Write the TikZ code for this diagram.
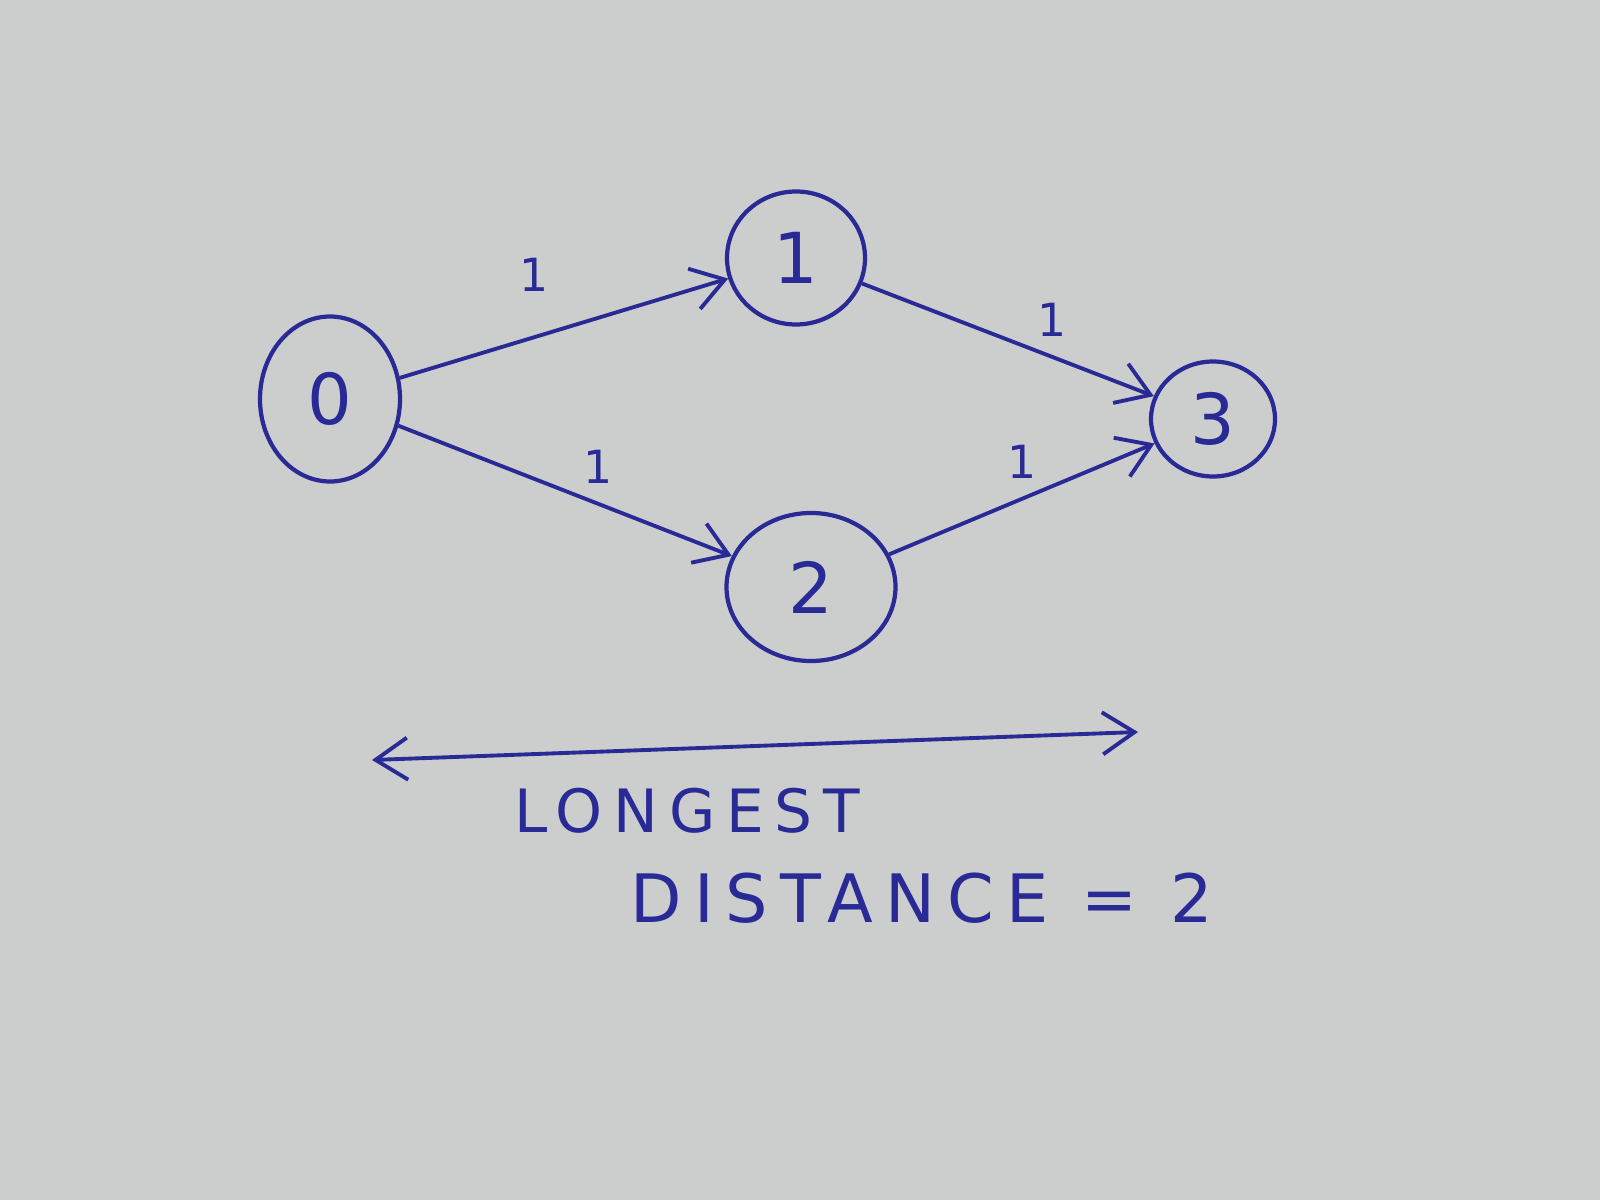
\documentclass[tikz,border=0pt]{standalone}
\usepackage{fontspec}
\usepackage{tikz}
\usetikzlibrary{shapes.geometric, arrows.meta, positioning}
\newfontfamily\handfont[LetterSpace=18]{DejaVu Sans}
\newfontfamily\digitfont{DejaVu Sans}
\definecolor{papel}{RGB}{204,206,205}
\definecolor{tinta}{RGB}{42,42,150}
\tikzset{
  vertice/.style={ellipse, draw=tinta, line width=1.2pt, inner sep=0pt,
    text=tinta, font=\digitfont\fontsize{20}{24}\selectfont},
  flecha/.style={-{Straight Barb[length=3.2mm, width=4.2mm]}, line width=1.1pt, color=tinta},
  peso/.style={font=\digitfont\fontsize{13}{15}\selectfont, text=tinta, inner sep=1pt},
  rotulo/.style={font=\handfont\fontsize{17}{20}\selectfont, text=tinta, inner sep=0pt}
}
\begin{document}
\begin{tikzpicture}
  \fill[papel] (0,0) rectangle (16,12);
  \useasboundingbox (0,0) rectangle (16,12);
  \node[vertice, minimum width=1.40cm, minimum height=1.65cm] (n0) at (3.30,8.01) {0};
  \node[vertice, minimum width=1.38cm, minimum height=1.33cm] (n1) at (7.96,9.42) {1};
  \node[vertice, minimum width=1.69cm, minimum height=1.48cm] (n2) at (8.11,6.13) {2};
  \node[vertice, minimum width=1.24cm, minimum height=1.15cm] (n3) at (12.13,7.81) {3};
  \draw[flecha] (n0) -- node[peso, pos=0.41, above=4mm] {1} (n1);
  \draw[flecha] (n1) -- node[peso, pos=0.65, above=1.5mm] {1} (n3);
  \draw[flecha] (n0) -- node[peso, pos=0.6, above=1.5mm] {1} (n2);
  \draw[flecha] (n2) -- node[peso, pos=0.5, above=1.5mm] {1} (n3);
  \coordinate (izq) at (3.72,4.40);
  \coordinate (der) at (11.38,4.68);
  \draw[flecha, {Straight Barb[length=3.2mm, width=4.2mm]}-{Straight Barb[length=3.2mm, width=4.2mm]}] (izq) -- (der);
  \node[rotulo] (largo) at (6.87,3.89) {LONGEST};
  \node[rotulo, font=\handfont\fontsize{19}{22}\selectfont] (dist) at (9.22,3.02) {DISTANCE = 2};
\end{tikzpicture}
\end{document}
